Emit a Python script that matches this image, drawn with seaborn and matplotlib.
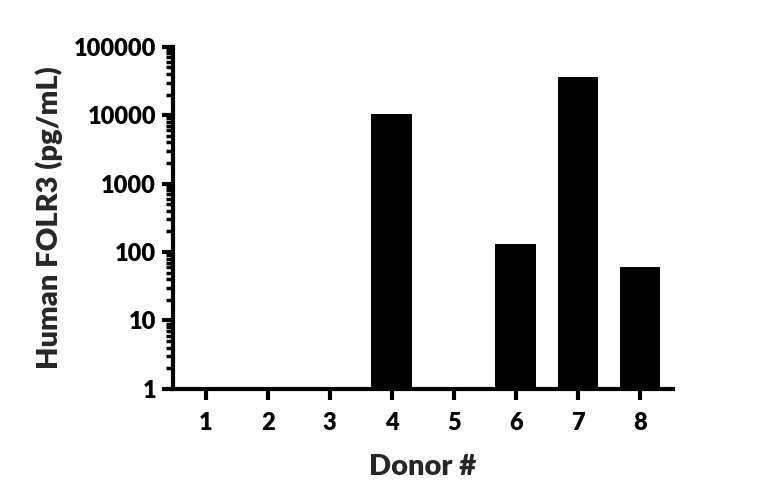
import matplotlib
matplotlib.use("Agg")
import matplotlib.pyplot as plt
import seaborn as sns
from matplotlib.ticker import LogLocator, FixedLocator, FixedFormatter, NullFormatter

## 도너별 Human FOLR3 농도 (log 스케일 막대그래프)
donors = ["1", "2", "3", "4", "5", "6", "7", "8"]
folr3 = [0, 0, 0, 10400, 0, 132, 36000, 61]  # 1,2,3,5 는 검출 안 됨
y_ticks = [1, 10, 100, 1000, 10000, 100000]
y_tick_labels = ["1", "10", "100", "1000", "10000", "100000"]

sns.set_style("ticks")
plt.rcParams["font.family"] = ["Lato", "DejaVu Sans"]
plt.rcParams["font.weight"] = "heavy"

fig = plt.figure(figsize=(7.68, 5.03), dpi=100)
ax = fig.add_axes([0.225, 0.227, 0.651, 0.680])
ax.set_yscale("log")

sns.barplot(x=donors, y=folr3, color="black", width=0.656,
            edgecolor="black", linewidth=0, saturation=1, ax=ax)

ax.set_ylim(1, 100000)
ax.set_xlim(-0.53, 7.53)
ax.yaxis.set_major_locator(FixedLocator(y_ticks))
ax.yaxis.set_major_formatter(FixedFormatter(y_tick_labels))
ax.yaxis.set_minor_locator(LogLocator(base=10, subs=range(2, 10)))
ax.yaxis.set_minor_formatter(NullFormatter())

for side in ["top", "right"]:
    ax.spines[side].set_visible(False)
for side in ["left", "bottom"]:
    ax.spines[side].set_linewidth(3)
    ax.spines[side].set_color("black")

ax.tick_params(axis="both", which="major", direction="out", length=8, width=3,
               labelsize=17, colors="black", pad=4)
ax.tick_params(axis="y", which="minor", direction="out", length=5, width=2.5, colors="black")
ax.tick_params(axis="x", pad=9)
for lab in ax.get_xticklabels() + ax.get_yticklabels():
    lab.set_fontweight("heavy")

ax.set_xlabel("Donor #", fontsize=21, fontweight="heavy", labelpad=14)
ax.set_ylabel("Human FOLR3 (pg/mL)", fontsize=21, fontweight="heavy", labelpad=8)

fig.savefig("out.png", dpi=100)
